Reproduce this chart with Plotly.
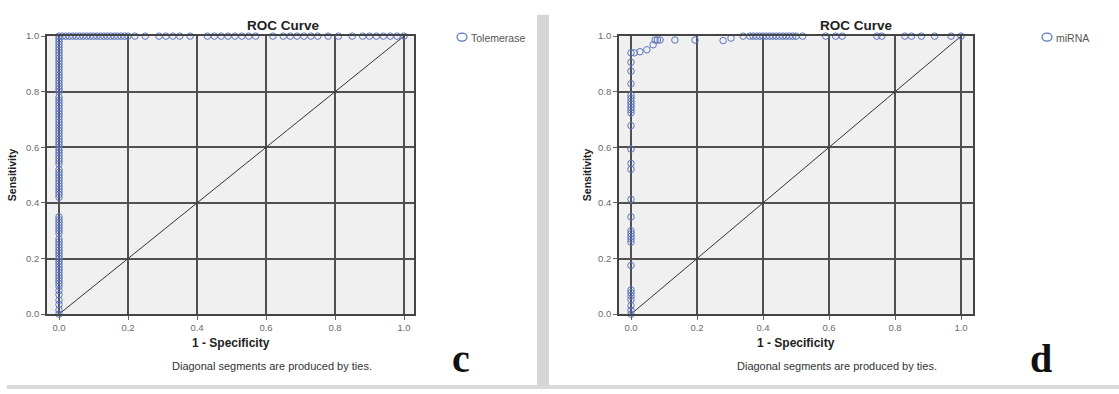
import plotly.graph_objects as go

# ---------------- data ----------------
tick_vals = [0.0, 0.2, 0.4, 0.6, 0.8, 1.0]
tick_text = ["0.0", "0.2", "0.4", "0.6", "0.8", "1.0"]

# Tolemerase: points on x = 0 (sensitivity values)
tol_col_sens = [0.0, 0.015, 0.035, 0.05, 0.07, 0.085, 0.1, 0.11, 0.12, 0.13, 0.14, 0.15,
                0.16, 0.17, 0.18, 0.19, 0.2, 0.21, 0.22, 0.23, 0.24, 0.25, 0.26, 0.27,
                0.29, 0.30, 0.31, 0.32, 0.33, 0.34, 0.35, 0.42, 0.43, 0.44, 0.45, 0.46,
                0.47, 0.48, 0.49, 0.50, 0.51, 0.52, 0.54, 0.55, 0.56, 0.57, 0.58, 0.59,
                0.60, 0.61, 0.62, 0.63, 0.64, 0.65, 0.66, 0.67, 0.68, 0.69, 0.70, 0.71,
                0.72, 0.73, 0.74, 0.75, 0.76, 0.77, 0.78, 0.80, 0.81, 0.82, 0.83, 0.84,
                0.85, 0.86, 0.87, 0.88, 0.89, 0.90, 0.91, 0.92, 0.93, 0.94, 0.95, 0.96,
                0.97, 0.98, 0.99, 1.0]
# Tolemerase: points on sensitivity = 1 (1 - specificity values)
tol_top_fpr = [0.01, 0.02, 0.03, 0.04, 0.05, 0.06, 0.07, 0.08, 0.09, 0.10, 0.11, 0.12,
               0.13, 0.14, 0.15, 0.16, 0.17, 0.18, 0.19, 0.20, 0.22, 0.25, 0.29, 0.31,
               0.33, 0.35, 0.38, 0.43, 0.45, 0.47, 0.49, 0.51, 0.53, 0.55, 0.57, 0.62,
               0.65, 0.67, 0.69, 0.71, 0.73, 0.75, 0.78, 0.81, 0.85, 0.88, 0.90, 0.92,
               0.94, 0.96, 0.98, 1.0]

# miRNA: points on x = 0
mir_col_sens = [0.0, 0.014, 0.031, 0.052, 0.065, 0.077, 0.087, 0.175, 0.259, 0.27, 0.28,
                0.29, 0.30, 0.35, 0.413, 0.521, 0.542, 0.594, 0.678, 0.724, 0.735, 0.745,
                0.755, 0.765, 0.776, 0.787, 0.829, 0.874, 0.906, 0.94]
# miRNA: bend of the curve
mir_bend_fpr = [0.01, 0.027, 0.048, 0.067, 0.073, 0.08, 0.088, 0.133, 0.194, 0.279, 0.303]
mir_bend_sens = [0.94, 0.944, 0.951, 0.969, 0.986, 0.986, 0.986, 0.986, 0.986, 0.984, 0.993]
# miRNA: points on sensitivity = 1
mir_top_fpr = [0.34, 0.36, 0.37, 0.38, 0.39, 0.40, 0.41, 0.42, 0.43, 0.44, 0.45, 0.46,
               0.47, 0.48, 0.49, 0.50, 0.52, 0.59, 0.62, 0.64, 0.745, 0.76, 0.83, 0.85,
               0.88, 0.92, 0.97, 1.0]

diag = [0.0, 1.0]

# ---------------- figure ----------------
W, H = 1119, 394
BLUE = "#5a73bd"
GRID = "#505050"
FONT = "Liberation Sans, Arial, sans-serif"

def px(x):
    return x / W

def py(y):
    return 1 - y / H

fig = go.Figure()

tol_x = [0.0] * len(tol_col_sens) + tol_top_fpr
tol_y = tol_col_sens + [1.0] * len(tol_top_fpr)
mir_x = [0.0] * len(mir_col_sens) + mir_bend_fpr + mir_top_fpr
mir_y = mir_col_sens + mir_bend_sens + [1.0] * len(mir_top_fpr)

for xa, ya, xs, ys, name in [("x", "y", tol_x, tol_y, "Tolemerase"),
                             ("x2", "y2", mir_x, mir_y, "miRNA")]:
    fig.add_trace(go.Scatter(x=diag, y=diag, xaxis=xa, yaxis=ya, mode="lines",
                             line=dict(color="#333333", width=1), showlegend=False,
                             hoverinfo="skip"))
    fig.add_trace(go.Scatter(x=xs, y=ys, xaxis=xa, yaxis=ya, mode="markers", name=name,
                             marker=dict(symbol="circle-open", size=6.5, color=BLUE,
                                         line=dict(width=1, color=BLUE)),
                             cliponaxis=False, showlegend=False))

axis_common = dict(tickvals=tick_vals, ticktext=tick_text, showgrid=True, gridcolor=GRID,
                   gridwidth=1.8, zeroline=False, showline=True, linecolor="#444444",
                   linewidth=1.6, mirror=True, ticks="outside", ticklen=4,
                   tickcolor="#666666", tickfont=dict(family=FONT, size=9.5, color="#6a6a6a"))

y_dom = [py(317), py(31)]
fig.update_layout(
    width=W, height=H, margin=dict(l=0, r=0, t=0, b=0),
    paper_bgcolor="white", plot_bgcolor="#f0f0f0", showlegend=False,
    xaxis=dict(domain=[px(47), px(414)], range=[-12 / 345, 1 + 10 / 345], anchor="y",
               **axis_common),
    yaxis=dict(domain=y_dom, range=[0, 1], anchor="x", **axis_common),
    xaxis2=dict(domain=[px(619), px(973)], range=[-12 / 330, 1 + 12 / 330], anchor="y2",
                **axis_common),
    yaxis2=dict(domain=y_dom, range=[0, 1], anchor="x2", **axis_common),
)

shapes = [
    dict(type="rect", xref="paper", yref="paper", x0=px(537), x1=px(549), y0=0, y1=py(9),
         fillcolor="#d6d6d6", line=dict(width=0), layer="below"),
    dict(type="rect", xref="paper", yref="paper", x0=px(7), x1=1, y0=0, y1=py(390),
         fillcolor="#d9d9d9", line=dict(width=0), layer="below"),
]
for cx in (462, 1047):
    shapes.append(dict(type="circle", xref="paper", yref="paper", xsizemode="pixel",
                       ysizemode="pixel", xanchor=px(cx), yanchor=py(32), x0=-5, x1=5,
                       y0=-4, y1=4, line=dict(color=BLUE, width=1.2)))
fig.update_layout(shapes=shapes)

ann = []
def txt(x, y, s, size, bold=False, color="#222222", family=FONT, angle=0, xanchor="center"):
    ann.append(dict(xref="paper", yref="paper", x=px(x), y=py(y), text=(f"<b>{s}</b>" if bold else s),
                    showarrow=False, font=dict(family=family, size=size, color=color),
                    textangle=angle, xanchor=xanchor, yanchor="middle"))

for off, cx_title, cx_x, cx_note, cx_letter, letter in [
        (0, 283, 231, 272, 461, "c"),
        (575, 856, 796, 837, 1041, "d")]:
    txt(cx_title, 20, "ROC Curve", 13.5, bold=True)
    txt(cx_x, 347, "1 - Specificity", 12, bold=True)
    txt(cx_note, 370, "Diagonal segments are produced by ties.", 11, color="#333333")
    txt(12 + off, 174, "Sensitivity", 10.5, bold=True, angle=-90)
    txt(cx_letter, 363, letter, 40, bold=True, color="#111111",
        family="Liberation Serif, Times New Roman, serif")
txt(469, 33, "Tolemerase", 10.5, color="#555555", xanchor="left")
txt(1054, 33, "miRNA", 10.5, color="#555555", xanchor="left")
fig.update_layout(annotations=ann)

page_fix = (
    "var s=document.createElement('style');"
    "s.textContent='html,body{margin:0;padding:0;overflow:hidden;}';"
    "document.head.appendChild(s);"
)
fig.write_html("out.html", config={"displayModeBar": False}, post_script=page_fix)
